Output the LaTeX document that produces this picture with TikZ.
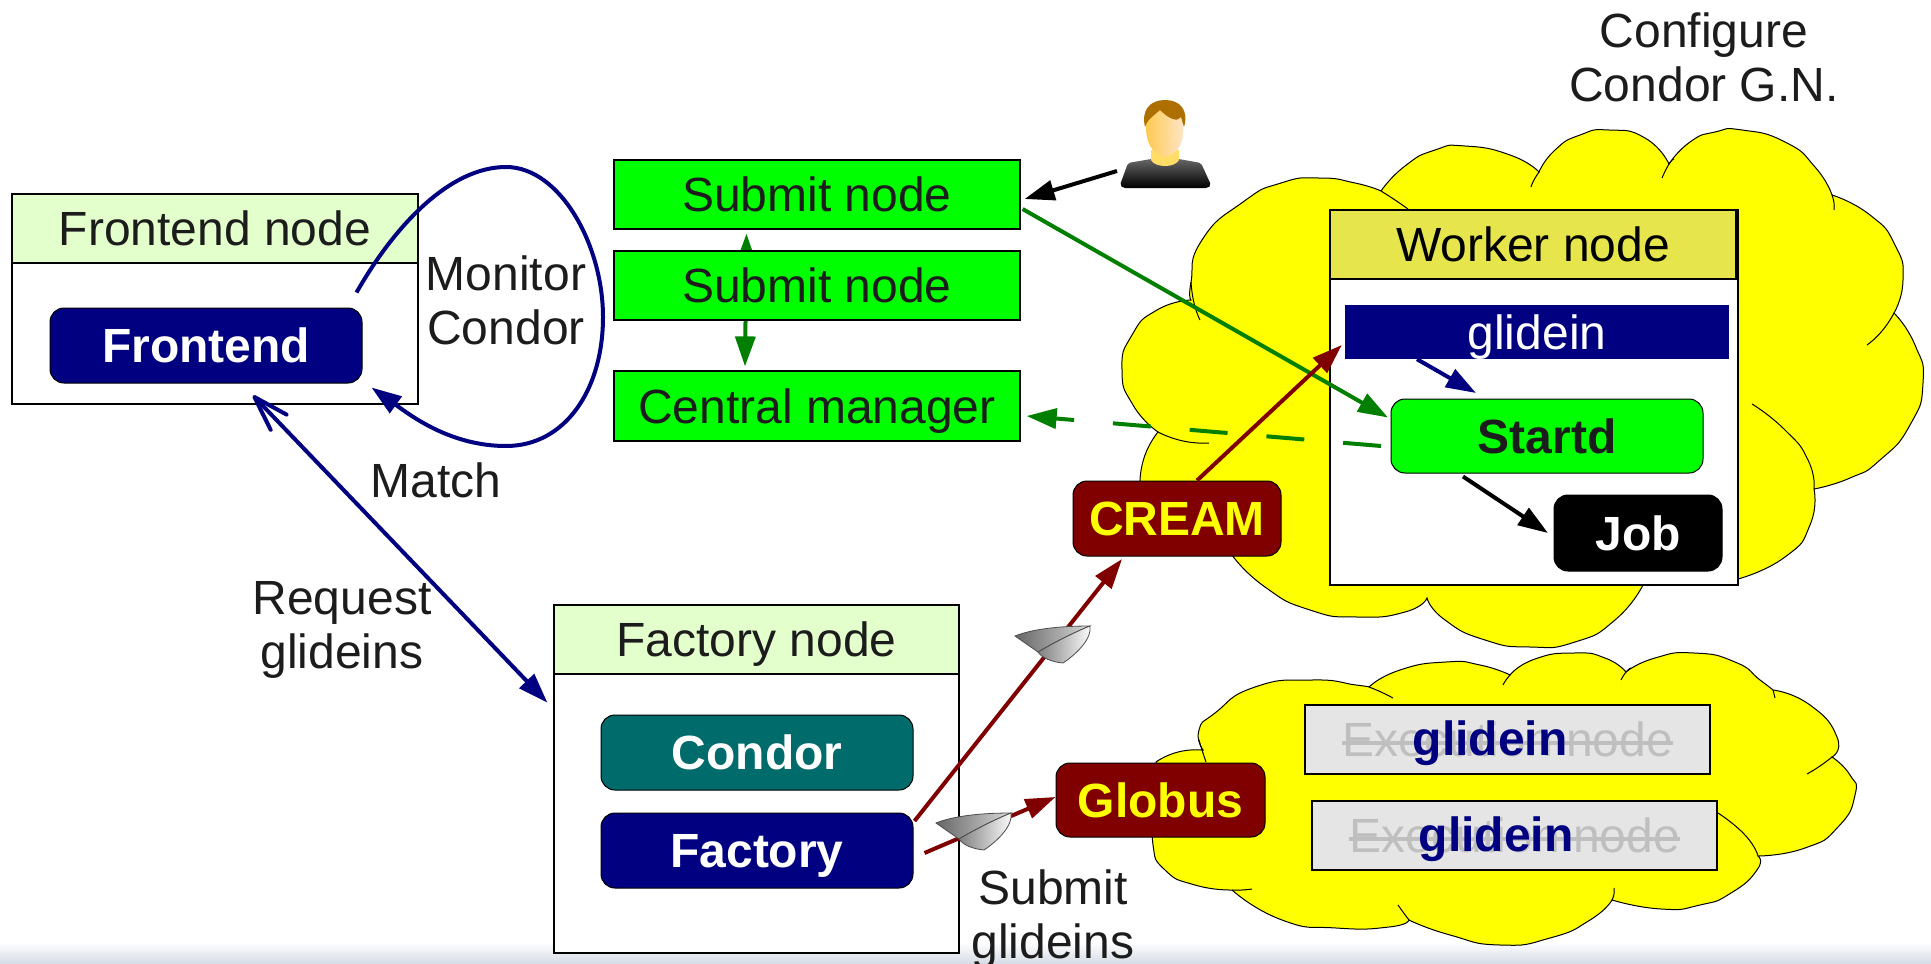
\documentclass[tikz,border=0pt]{standalone}
\usepackage{fontspec}
\setmainfont{Liberation Sans}
\usetikzlibrary{arrows.meta}
\newcommand{\struck}[1]{\setbox0=\hbox{#1}\copy0\kern-\wd0\raisebox{12pt}{\rule{\wd0}{4pt}}}
\definecolor{navyblue}{HTML}{000080}
\definecolor{darkgreen}{HTML}{007F00}
\definecolor{maroonred}{HTML}{800000}
\definecolor{headgreen}{HTML}{E2FFCC}
\definecolor{headyellow}{HTML}{E6E64C}
\definecolor{tealbox}{HTML}{006B6B}
\definecolor{inktext}{HTML}{1C1C1C}
\definecolor{bandblue}{HTML}{D5DBE5}
\definecolor{pureyellow}{HTML}{FFFF00}
\definecolor{puregreen}{HTML}{00FF00}
\tikzset{
    every node/.style={font=\fontsize{48}{54}\selectfont, text=inktext, inner sep=0pt},
    framebox/.style={draw=black, line width=1.2pt, fill=white, rectangle},
    headbox/.style={framebox, fill=headgreen, text height=34pt, text depth=0pt},
    greenbox/.style={draw=black, line width=1.2pt, fill=puregreen, rectangle, text height=34pt, text depth=0pt},
    service/.style={draw=black, line width=1pt, rounded corners=14pt, rectangle, text height=34pt, text depth=0pt,
        font=\fontsize{48}{54}\selectfont\bfseries},
    execbox/.style={draw=black, line width=1.2pt, fill=black!10, rectangle, minimum width=405pt, minimum height=69pt,
        text=black!25, text height=34pt, text depth=0pt},
    glideintext/.style={text=navyblue, font=\fontsize{48}{54}\selectfont\bfseries, text height=34pt, text depth=0pt},
    cloudfill/.style={draw=black, line width=1pt, fill=pureyellow},
    cloudline/.style={draw=black, line width=1pt},
    lobe/.style={smooth, tension=1},
    flow/.style={line width=4pt, -{Triangle[length=30pt,width=20pt]}},
}
\begin{document}
\begin{tikzpicture}[x=1pt, y=-1pt]
    \useasboundingbox (0,0) rectangle (1931,964);
    \shade[top color=white, bottom color=bandblue] (0,942) rectangle (1931,964);

    % upper cloud
    \path[cloudfill] plot[lobe] coordinates {(1158,432) (1133,405) (1122,370) (1132,335) (1157,310) (1191,300)}
        -- plot[lobe] coordinates {(1191,300) (1191,282) (1202,240) (1243,202) (1281,183) (1319,178) (1355,183) (1381,191)}
        -- plot[lobe] coordinates {(1381,191) (1405,166) (1435,150) (1465,146) (1510,155) (1539,172)}
        -- plot[lobe] coordinates {(1539,172) (1555,150) (1580,135) (1609,130) (1645,138) (1669,164)}
        -- plot[lobe] coordinates {(1669,164) (1690,142) (1715,132) (1742,130) (1785,142) (1815,167) (1832,195)}
        -- plot[lobe] coordinates {(1832,195) (1870,215) (1895,245) (1903,280) (1894,313)}
        -- plot[lobe] coordinates {(1894,313) (1915,345) (1923,383) (1910,425) (1880,460) (1850,478) (1814,489)}
        -- plot[lobe] coordinates {(1814,489) (1810,525) (1785,557) (1738,579)}
        -- (1643,585)
        -- plot[lobe] coordinates {(1643,585) (1615,620) (1575,642) (1530,647) (1485,640) (1445,620) (1427,598)}
        -- plot[lobe] coordinates {(1427,598) (1405,612) (1357,617) (1310,610) (1265,587) (1232,555)}
        -- (1140,481)
        -- plot[lobe] coordinates {(1140,481) (1145,455) (1158,432)} -- cycle;
    \foreach \stub in {{(1191,282) (1194,303) (1200,320)}, {(1381,191) (1395,200) (1408,209)}, {(1539,172) (1534,180) (1531,187)},
        {(1674,159) (1669,164) (1662,178)}, {(1832,195) (1834,203) (1834,210)}, {(1894,313) (1882,331) (1867,345)},
        {(1752,404) (1785,430) (1808,460) (1814,489)}, {(1158,432) (1183,441) (1209,443)}} {
        \draw[cloudline] plot[lobe] coordinates \stub;
    }

    % lower cloud
    \path[cloudfill] plot[lobe] coordinates {(1156,762) (1178,752) (1203,750)}
        -- plot[lobe] coordinates {(1203,750) (1199,730) (1215,713) (1255,687) (1312,680) (1356,685) (1369,687)}
        -- plot[lobe] coordinates {(1369,687) (1400,670) (1446,662) (1480,665) (1510,675)}
        -- plot[lobe] coordinates {(1510,675) (1535,659) (1574,653) (1605,658) (1626,672)}
        -- plot[lobe] coordinates {(1626,672) (1655,658) (1694,653) (1735,662) (1760,680) (1773,690)}
        -- plot[lobe] coordinates {(1773,690) (1810,705) (1837,737) (1832,757)}
        -- plot[lobe] coordinates {(1832,757) (1850,775) (1855,795) (1838,827) (1805,848) (1758,856)}
        -- plot[lobe] coordinates {(1758,856) (1757,870) (1731,893) (1700,905) (1661,909) (1612,900)}
        -- plot[lobe] coordinates {(1612,900) (1590,920) (1550,938) (1500,945) (1450,935) (1409,920)}
        -- plot[lobe] coordinates {(1409,920) (1389,927) (1336,928) (1282,920) (1232,890)}
        -- plot[lobe] coordinates {(1232,890) (1195,885) (1165,870) (1153,845) (1156,815)}
        -- cycle;
    \foreach \stub in {{(1199,740) (1202,750) (1206,762)}, {(1369,687) (1381,692) (1393,698)}, {(1510,675) (1506,680) (1503,685)},
        {(1631,668) (1626,672) (1621,680)}, {(1773,690) (1774,694) (1775,698)}, {(1832,757) (1820,766) (1807,774)},
        {(1718,813) (1745,835) (1758,856)}, {(1612,900) (1614,894) (1614,888)}, {(1409,920) (1403,912) (1398,905)},
        {(1232,890) (1242,890) (1252,889)}} {
        \draw[cloudline] plot[lobe] coordinates \stub;
    }

    % frontend
    \node[framebox, minimum width=406pt, minimum height=210pt] (frontendframe) at (215,299) {};
    \node[headbox, minimum width=406pt, minimum height=69pt] (frontendhead) at (215,228.5) {Frontend node};
    \node[service, fill=navyblue, text=white, minimum width=312pt, minimum height=75pt] (frontend) at (206,345.5) {Frontend};

    % factory
    \node[framebox, minimum width=405pt, minimum height=348pt] (factoryframe) at (756.5,779) {};
    \node[headbox, minimum width=405pt, minimum height=69pt] (factoryhead) at (756.5,639.5) {Factory node};
    \node[service, fill=tealbox, text=white, minimum width=312pt, minimum height=75pt] (condor) at (757,752.5) {Condor};
    \node[service, fill=navyblue, text=white, minimum width=312pt, minimum height=75pt] (factory) at (757,850.5) {Factory};

    % worker
    \node[framebox, minimum width=408pt, minimum height=375pt] (workerframe) at (1534,397.5) {};
    \node[headbox, fill=headyellow, text=black, minimum width=406pt, minimum height=69pt] (workerhead) at (1533,244.5) {Worker node};
    \node[rectangle, fill=navyblue, text=white, minimum width=384pt, minimum height=54pt, text height=34pt, text depth=0pt] (glidein) at (1537,332) {glidein};
    \node[service, fill=puregreen, minimum width=312pt, minimum height=74pt] (startd) at (1547,436) {Startd};
    \node[service, fill=black, text=white, minimum width=168pt, minimum height=76pt] (job) at (1638,533) {Job};

    % grid sites
    \node[service, fill=maroonred, text=pureyellow, minimum width=208pt, minimum height=75pt] (cream) at (1177,518.5) {CREAM};
    \node[service, fill=maroonred, text=pureyellow, minimum width=209pt, minimum height=74pt] (globus) at (1160.5,800) {Globus};
    \node[execbox] (execA) at (1507.5,739.5) {\struck{Execution node}};
    \node[execbox] (execB) at (1514.5,835.5) {\struck{Execution node}};
    \node[glideintext] (glideinA) at (1490,738) {glidein};
    \node[glideintext] (glideinB) at (1496,834) {glidein};

    % submit side
    \node[greenbox, minimum width=406pt, minimum height=69pt] (submitA) at (817,194.5) {Submit node};
    \node[greenbox, minimum width=406pt, minimum height=70pt] (central) at (817,406) {Central manager};
    \draw[darkgreen, line width=4pt, {Triangle[length=30pt,width=20pt]}-{Triangle[length=30pt,width=20pt]}]
        ([xshift=-70.5pt,yshift=-4pt]submitA.south) -- ([xshift=-72pt,yshift=4pt]central.north);
    \node[greenbox, minimum width=406pt, minimum height=69pt] (submitB) at (817,285.5) {Submit node};

    % user
    \coordinate (user) at (1165,144);
    \shade[top color=black!60, bottom color=black, rounded corners=2pt] (1128,163) -- (1151,159) -- (1179,159) -- (1201,163) -- (1211,185) -- (1208,188) -- (1123,188) -- (1120,185) -- cycle;
    \fill[orange!45!yellow!60!white] (1151,150) -- (1179,150) -- (1179,160) .. controls (1175,168) and (1155,168) .. (1151,160) -- cycle;
    \shade[left color=orange!60!yellow!70!white, right color=orange!20!white] (1146,120) .. controls (1146,105) and (1183,105) .. (1183,120) .. controls (1185,145) and (1178,153) .. (1165,157) .. controls (1152,153) and (1145,145) .. (1146,120) -- cycle;
    \fill[orange!60!black!80!yellow] (1145,127) .. controls (1141,110) and (1150,100) .. (1165,100) .. controls (1180,100) and (1189,110) .. (1184,127) -- (1181,117) .. controls (1178,122) and (1170,120) .. (1160,110) .. controls (1155,115) and (1148,118) .. (1145,127) -- cycle;

    % connectors
    \draw[flow, black] ([xshift=-48pt,yshift=-27pt]user) -- ([xshift=4pt,yshift=-4.5pt]submitA.east);
    \draw[flow, darkgreen] ([xshift=2pt,yshift=-14.5pt]submitA.east) -- ([xshift=-2.5pt,yshift=18.5pt]startd.west);
    \draw[flow, darkgreen, dash pattern=on 38pt off 39pt] ([xshift=-9.5pt,yshift=-10pt]startd.west) -- ([xshift=6pt,yshift=-10pt]central.east);
    \draw[flow, navyblue] ([xshift=-120pt]glidein.south) -- ([xshift=-71pt,yshift=5.5pt]startd.north);
    \draw[flow, black] ([xshift=-84pt,yshift=-3pt]startd.south) -- ([xshift=-5.5pt]job.west);
    \draw[flow, maroonred] ([xshift=20pt]cream.north) -- ([xshift=-3pt,yshift=-13pt]glidein.west);
    \draw[flow, maroonred] ([xshift=1pt,yshift=29.5pt]factory.east) -- ([xshift=-55pt,yshift=-2.5pt]cream.south);
    \draw[flow, maroonred] ([xshift=11pt,yshift=-2.5pt]factory.east) -- ([yshift=3pt]globus.west);
    \draw[line width=4pt, navyblue, {Straight Barb[length=35pt,width=22pt,round]}-{Triangle[length=30pt,width=20pt]}]
        ([xshift=47pt,yshift=-12pt]frontend.south) -- ([xshift=-6pt,yshift=-28pt]factoryhead.south west);
    \draw[line width=4pt, navyblue, -{Triangle[length=30pt,width=20pt]}] ([xshift=-6pt,yshift=15pt]frontend.north east)
        .. controls (395,225) and (450,167) .. (506,167)
        .. controls (560,167) and (603,245) .. (603,317)
        .. controls (603,390) and (565,446) .. (506,446)
        .. controls (450,446) and (410,415) .. ([xshift=9pt,yshift=-4pt]frontend.south east);

    % paper planes
    \foreach \px/\py in {0/0, -79/187} {
        \begin{scope}[shift={(\px,\py)}]
            \shade[left color=black!60, right color=black!15, draw=black!70, line width=0.8pt]
                (1015,636) .. controls (1035,628) and (1065,626) .. (1090,626) .. controls (1075,632) and (1055,642) .. (1038,652) -- cycle;
            \shade[left color=black!50, right color=white, draw=black!70, line width=0.8pt]
                (1038,652) .. controls (1055,642) and (1075,632) .. (1090,626) .. controls (1092,638) and (1078,653) .. (1063,663) .. controls (1052,662) and (1042,658) .. (1038,652) -- cycle;
        \end{scope}
    }

    % free labels
    \node[align=center] (monitorlabel) at (506,300) {Monitor\\Condor};
    \node (matchlabel) at (436,480) {Match};
    \node[align=center] (requestlabel) at (342,630) {Request\\glideins};
    \node[align=center] (submitlabel) at (1053,919) {Submit\\glideins};
    \node[align=center] (configlabel) at (1704,57) {Configure\\Condor G.N.};
\end{tikzpicture}
\end{document}
